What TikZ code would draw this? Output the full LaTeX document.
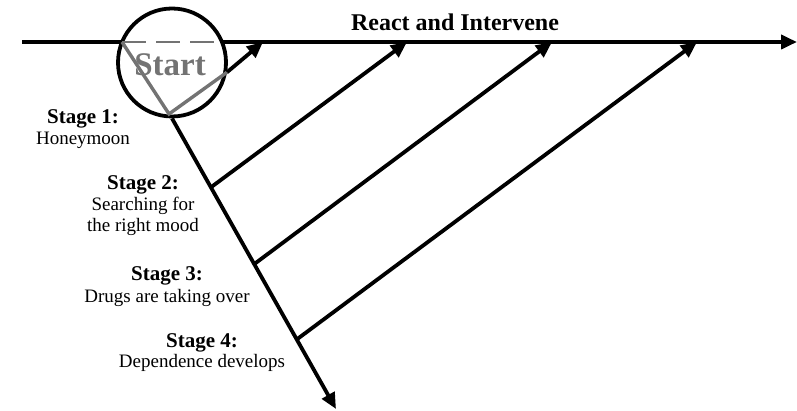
\documentclass[tikz,border=0pt]{standalone}
\usepackage{fontspec}
\setmainfont{Liberation Serif}
\usetikzlibrary{arrows.meta}
\definecolor{halftone}{gray}{0.45}
\begin{document}
\begin{tikzpicture}[x=1pt,y=-1pt,
  line/.style={line width=3.8pt},
  arr/.style={line width=3.8pt,-{Triangle[length=16pt,width=14pt]}},
  grayline/.style={line width=3.4pt,draw=halftone},
  stagehead/.style={font=\fontsize{21}{21}\selectfont\bfseries,anchor=base,inner sep=0pt},
  stagetext/.style={font=\fontsize{19}{21}\selectfont,anchor=base,inner sep=0pt}]
\useasboundingbox (0,0) rectangle (797,411);
% coordinates
\coordinate (hs) at (22,42);
\coordinate (he) at (797,42);
\coordinate (cl) at (122,42);
\coordinate (cr) at (222,42);
\coordinate (j) at (169,114);
\coordinate (t0) at (263,42);
\coordinate (t2) at (407,42);
\coordinate (t3) at (552,42);
\coordinate (t4) at (697,42);
\coordinate (b2) at (210,188);
\coordinate (b3) at (253,265);
\coordinate (b4) at (296,340);
\coordinate (dend) at (336,409);
% circle
\node[circle, draw, line width=3.8pt, minimum size=108pt, inner sep=0pt] (start) at (172,62.5) {};
\node[anchor=base, inner sep=0pt, text=halftone, font=\fontsize{33}{33}\selectfont\bfseries] (starttxt) at (170,76) {Start};
% horizontal line
\draw[line] (hs) -- (cl);
\draw[grayline, line width=2.6pt, dash pattern=on 24pt off 10pt] (cl) -- (cr);
\draw[arr] (cr) -- (he);
% gray lines in circle
\draw[grayline] (cl) -- (j) -- (start.-10);
\draw[arr] (start.-10) -- (t0);
% diagonal
\draw[arr] (start.south) -- (dend);
% branches
\draw[arr] (b2) -- (t2);
\draw[arr] (b3) -- (t3);
\draw[arr] (b4) -- (t4);
% title
\node[anchor=base, inner sep=0pt, font=\fontsize{24}{24}\selectfont\bfseries] (title) at (455,31) {React and Intervene};
% stage labels
\node[stagehead] (s1h) at (83,124) {Stage 1:};
\node[stagetext] (s1t) at (83,145) {Honeymoon};
\node[stagehead] (s2h) at (143,190) {Stage 2:};
\node[stagetext] (s2a) at (143,211) {Searching for};
\node[stagetext] (s2b) at (143,232) {the right mood};
\node[stagehead] (s3h) at (167,281) {Stage 3:};
\node[stagetext] (s3t) at (167,303) {Drugs are taking over};
\node[stagehead] (s4h) at (202,347) {Stage 4:};
\node[stagetext] (s4t) at (202,367) {Dependence develops};
\end{tikzpicture}
\end{document}
